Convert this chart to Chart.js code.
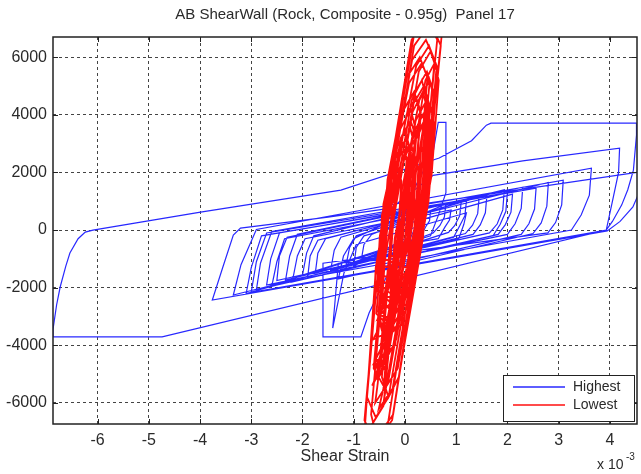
<!DOCTYPE html>
<html>
<head>
<meta charset="utf-8">
<script src="https://cdn.jsdelivr.net/npm/chart.js@4.4.1/dist/chart.umd.min.js"></script>
<style>
html,body{margin:0;padding:0;background:#fff;}
#wrap{position:relative;width:641px;height:474px;}
</style>
</head>
<body>
<div id="wrap"><canvas id="c" width="641" height="474"></canvas></div>
<script>
// ---- texts ----
const chartTitle = 'AB ShearWall (Rock, Composite - 0.95g)  Panel 17';
const xAxisTitle = 'Shear Strain';
const xMultiplierBase = 'x 10';
const xMultiplierExp = '-3';
const seriesNames = ['Highest', 'Lowest'];

// ---- tick labels ----
const xTicks = [-6, -5, -4, -3, -2, -1, 0, 1, 2, 3, 4];
const yTicks = [-6000, -4000, -2000, 0, 2000, 4000, 6000];

// ---- series "Highest" (strain in 1e-3, shear force) ----
const highestStrain = [
  0.0,
  -0.86, -0.8, -0.65, 0.8, 0.77, 0.68, 0.55,
  -1.15, -1.08, -0.95, 1.1, 1.07, 0.97, 0.85,
  -1.45, -1.38, -1.25, 1.45, 1.42, 1.32, 1.18,
  -1.75, -1.7, -1.55, 0.5, 0.48, 0.4, 0.3,
  -2.0, -1.92, -1.78, 1.94, 1.91, 1.8, 1.65,
  -2.5, -2.45, -2.3, 1.6, 1.57, 1.47, 1.33,
  -2.33, -2.25, -2.1, 2.3, 2.27, 2.15, 2.0,
  -2.7, -2.62, -2.45, 2.56, 2.53, 2.42, 2.27,
  -0.5, -0.45, 0.2, 0.55, 0.65, 0.8, 0.8, 0.8, 0.65, 0.5,
  -2.9, -2.82, -2.6, 3.09, 3.06, 2.94, 2.79,
  -1.6, -1.6, -0.86, -0.7, -0.39, -0.2, -1.3, -1.41, -1.19, -0.95, 1.2, 1.15, 1.05,
  -3.35, -3.2, -2.9, 3.64, 3.6, 3.44, 3.25,
  -1.9, -1.85, -1.7, 2.8, 2.77, 2.66, 2.5,
  -1.3, -1.2, -1.0, 0.45, 4.56, 4.72, 4.62, 4.45, 4.2, 3.95,
  -3.76, -3.56, -3.35, -3.21, -1.5, -0.27, 0.55, 2.3, 4.19, 4.17, 4.05, 3.93,
  -4.74, -6.87, -6.87, -6.8, -6.73, -6.62, -6.54, -6.38, -6.24, -6.09, -3.99, -1.25, 0.67, 1.3, 1.59, 1.68, 4.52, 4.52, 4.46, 4.35, 4.23, 4.05, 3.93,
  -3.1, -3.0, -2.8, 1.2, 1.17, 1.07, 0.95,
  -3.0, -2.9, -2.7, 2.0, 1.97, 1.86, 1.72,
  -2.6, -2.5, -2.35, 0.3, 0.28, 0.2, 0.1,
  -1.0, -0.95, -0.8, 2.1, 2.07, 1.96, 1.82,
  -2.2, -2.1, -1.95, 0.9, 0.87, 0.78, 0.65,
  0.0
];
const highestForce = [
  -300,
  -1109, -500, -150, 900, 450, 150, -100,
  -1213, -600, -200, 1000, 500, 150, -80,
  -1386, -700, -250, 1144, 570, 170, -120,
  -1500, -800, -300, 650, 320, 100, -250,
  -1560, -800, -200, 1400, 700, 210, -100,
  -1750, -900, -250, 1200, 600, 180, -150,
  -1733, -900, -150, 1490, 750, 220, -150,
  -1906, -1000, -100, 1456, 730, 220, -150,
  -1300, -300, 1500, 2700, 3740, 3740, 2500, 1300, 500, -200,
  -2080, -1150, -50, 1733, 870, 260, -100,
  -1150, -3709, -3709, -2877, -1733, -1000, -1150, -3400, -1490, -500, 600, 200, -300,
  -2253, -1200, 20, 2149, 1213, 520, 0,
  -1650, -900, -350, 1650, 830, 250, -120,
  -1700, -900, -300, 935, 2010, 2100, 1500, 800, 300, -30,
  -2426, -1317, -173, 70, 450, 760, 1900, 2400, 2842, 2000, 1000, 0,
  -3709, -3709, -3450, -2600, -1976, -1250, -797, -300, -69, 0, 624, 1386, 2500, 3100, 3639, 3709, 3709, 3300, 2080, 1400, 866, 300, 0,
  -2200, -1300, -200, 1000, 500, 150, -250,
  -2150, -1100, -100, 1300, 650, 200, -200,
  -1950, -1100, -300, 600, 300, 80, -300,
  -1250, -600, -200, 1250, 620, 190, -150,
  -1800, -900, -300, 700, 350, 100, -300,
  -500
];

// ---- series "Lowest" ----
const lowestStrain = [
  -0.15, -0.05, 0.1, 0.14, 0.09, -0.02, -0.2, -0.28,
  -0.18, -0.04, 0.19, 0.26, 0.19, 0.06, -0.2, -0.29,
  -0.33, -0.19, 0.1, 0.19, 0.12, -0.01, -0.26, -0.31,
  -0.09, 0.07, 0.35, 0.42, 0.35, 0.18, -0.17, -0.33,
  -0.45, -0.29, 0.05, 0.19, 0.11, -0.06, -0.35, -0.44,
  -0.21, -0.01, 0.34, 0.45, 0.35, 0.15, -0.27, -0.46,
  -0.56, -0.36, 0.05, 0.21, 0.11, -0.09, -0.58, -0.78,
  -0.64, -0.33, 0.25, 0.63, 0.44, 0.13, -0.3, -0.56,
  -0.22, 0.01, 0.41, 0.56, 0.43, 0.2, -0.28, -0.53,
  -0.58, -0.33, 0.18, 0.44, 0.29, 0.04, -0.34, -0.48,
  -0.08, 0.08, 0.37, 0.46, 0.38, 0.22, -0.14, -0.3,
  -0.37, -0.17, 0.25, 0.43, 0.33, 0.13, -0.39, -0.66,
  -0.55, -0.23, 0.34, 0.7, 0.5, 0.18, -0.26, -0.51,
  -0.4, -0.22, 0.14, 0.31, 0.21, 0.03, -0.4, -0.61,
  -0.39, -0.14, 0.36, 0.62, 0.47, 0.22, -0.15, -0.29,
  -0.08, 0.03, 0.21, 0.28, 0.23, 0.12, -0.13, -0.28,
  -0.49, -0.33, 0.0, 0.12, 0.04, -0.12, -0.54, -0.74,
  -0.57, -0.32, 0.2, 0.48, 0.33, 0.08, -0.31, -0.46,
  -0.13, 0.06, 0.37, 0.49, 0.39, 0.21, -0.19, -0.39,
  -0.54, -0.35, 0.03, 0.22, 0.11, -0.08, -0.55, -0.79,
  -0.58, -0.25, 0.33, 0.72, 0.51, 0.18, -0.26, -0.51,
  -0.23, -0.04, 0.34, 0.47, 0.37, 0.17, -0.26, -0.45,
  -0.57, -0.41, -0.07, 0.07, -0.02, -0.19, -0.43, -0.48,
  -0.09, 0.05, 0.31, 0.4, 0.34, 0.2, -0.2, -0.42,
  -0.51, -0.24, 0.29, 0.58, 0.41, 0.14, -0.3, -0.5,
  -0.41, -0.27, 0.01, 0.13, 0.07, -0.07, -0.26, -0.3,
  -0.08, 0.03, 0.16, 0.2, 0.15, 0.04, -0.26, -0.45,
  -0.32, -0.12, 0.35, 0.58, 0.48, 0.28, -0.09, -0.22,
  -0.51, -0.38, -0.14, -0.07, -0.14, -0.27, -0.49, -0.55,
  0.02, 0.15, 0.44, 0.57, 0.51, 0.37, 0.01, -0.19,
  -0.6, -0.44, -0.1, 0.03, -0.05, -0.21, -0.45, -0.49,
  0.01, 0.18, 0.52, 0.66, 0.58, 0.4, -0.11, -0.42,
  -0.66, -0.43, 0.06, 0.31, 0.18, -0.05, -0.41, -0.55,
  -0.19, 0.04, 0.46, 0.63, 0.5, 0.27, -0.22, -0.47,
  -0.64, -0.45, -0.08, 0.1, 0.0, -0.18, -0.42, -0.47,
  0.06, 0.17, 0.37, 0.44, 0.39, 0.28, 0.11, 0.06,
  -0.11, -0.03, 0.08, 0.1, 0.06, -0.02, -0.12, -0.1,
  -0.42, -0.31, -0.14, -0.06, -0.11, -0.22, -0.36, -0.4,
  0.15, 0.26, 0.46, 0.55, 0.5, 0.39, 0.11, -0.06,
  -0.62, -0.51, -0.31, -0.2, -0.26, -0.36, -0.57, -0.62
];
const lowestForce = [
  -1500, -1100, 150, 1400, 1800, 1400, -350, -2100,
  -2500, -2000, 50, 2100, 2600, 2100, -300, -2700,
  -3200, -2700, -100, 2500, 3000, 2500, 500, -1600,
  -2000, -1400, 1000, 3400, 4000, 3400, -100, -3600,
  -4200, -3600, -350, 2900, 3500, 2900, 250, -2400,
  -3000, -2300, 900, 4100, 4800, 4100, -100, -4300,
  -5000, -4300, -400, 3500, 4200, 3500, -1650, -6800,
  -7500, -6700, -50, 6600, 7400, 6600, 1950, -2900,
  -3500, -2800, 1000, 4800, 5500, 4800, -250, -5300,
  -6000, -5300, 0, 5300, 6000, 5300, 1750, -1900,
  -2500, -2000, 650, 3300, 3800, 3300, -350, -3900,
  -4500, -3800, 350, 4500, 5200, 4500, -1000, -6400,
  -7200, -6400, 0, 6400, 7200, 6400, 1700, -3100,
  -3800, -3200, 400, 4000, 4600, 4000, -450, -4800,
  -5500, -4800, 450, 5700, 6400, 5700, 2300, -1300,
  -1800, -1400, 300, 2000, 2400, 2000, -800, -3500,
  -4000, -3500, -400, 2700, 3200, 2700, -1650, -5800,
  -6500, -5800, -350, 5100, 5800, 5100, 1500, -2200,
  -2800, -2200, 800, 3800, 4400, 3800, -400, -4500,
  -5200, -4600, -700, 3200, 3800, 3200, -1800, -6600,
  -7400, -6600, 100, 6800, 7600, 6800, 2150, -2700,
  -3300, -2700, 850, 4400, 5000, 4400, 100, -4200,
  -4800, -4300, -1000, 2300, 2800, 2300, 300, -1700,
  -2200, -1700, 700, 3100, 3600, 3100, -1300, -5500,
  -6200, -5500, 200, 5900, 6600, 5900, 1500, -3000,
  -3600, -3100, -350, 2400, 2900, 2400, 850, -800,
  -1200, -800, 400, 1600, 2000, 1600, -1900, -5100,
  -5800, -5100, -300, 4500, 5200, 4500, 1100, -2400,
  -3000, -2500, -400, 1700, 2200, 1700, -200, -2100,
  -2600, -2100, 800, 3700, 4200, 3700, -200, -4000,
  -4600, -4000, -800, 2400, 3000, 2400, 500, -1500,
  -2000, -1400, 1900, 5200, 5800, 5200, -500, -6100,
  -6800, -6100, -1000, 4100, 4800, 4100, 700, -2800,
  -3400, -2700, 1400, 5500, 6200, 5500, 400, -4700,
  -5400, -4800, -1000, 2800, 3400, 2800, 900, -1200,
  -1600, -1200, 700, 2600, 3000, 2600, 1050, -500,
  -900, -600, 300, 1200, 1500, 1200, 300, -200,
  -2400, -2000, -300, 1400, 1800, 1400, 200, -1000,
  -1400, -1000, 1000, 3000, 3400, 3000, -200, -3300,
  -3800, -3400, -1300, 900, 1200, 900, -1300, -3000
];

const blueColor = 'rgb(40,40,255)';
const redColor = 'rgb(255,15,15)';
const FONT = '"Liberation Sans", Arial, Helvetica, sans-serif';
const TXT = '#2a2a2a';

function pairs(xs, ys) { return xs.map((x, i) => ({ x: x, y: ys[i] })); }

const decorPlugin = {
  id: 'decor',
  afterDraw(chart) {
    const ctx = chart.ctx;
    const a = chart.chartArea;
    const xs = chart.scales.x, ys = chart.scales.y;
    ctx.save();
    ctx.strokeStyle = '#222';
    ctx.lineWidth = 1;
    ctx.setLineDash([]);
    ctx.beginPath();
    xTicks.forEach(v => {
      const px = Math.round(xs.getPixelForValue(v)) + 0.5;
      ctx.moveTo(px, a.bottom); ctx.lineTo(px, a.bottom - 5);
      ctx.moveTo(px, a.top); ctx.lineTo(px, a.top + 5);
    });
    yTicks.forEach(v => {
      const py = Math.round(ys.getPixelForValue(v)) + 0.5;
      ctx.moveTo(a.left, py); ctx.lineTo(a.left + 5, py);
      ctx.moveTo(a.right, py); ctx.lineTo(a.right - 5, py);
    });
    ctx.stroke();
    ctx.lineWidth = 1.5;
    ctx.strokeStyle = '#222';
    ctx.strokeRect(a.left, a.top, a.right - a.left, a.bottom - a.top);

    ctx.fillStyle = TXT;
    ctx.textAlign = 'center';
    ctx.textBaseline = 'middle';
    ctx.font = '15px ' + FONT;
    ctx.fillText(chartTitle, (a.left + a.right) / 2, 15);
    ctx.font = '16px ' + FONT;
    ctx.fillText(xAxisTitle, (a.left + a.right) / 2, 457);
    ctx.textAlign = 'left';
    ctx.font = '14px ' + FONT;
    ctx.fillText(xMultiplierBase, 597, 465);
    ctx.font = '10px ' + FONT;
    ctx.fillText(xMultiplierExp, 626, 457);

    const lx = 503, ly = 375, lw = 131, lh = 46;
    ctx.fillStyle = '#fff';
    ctx.fillRect(lx, ly, lw, lh);
    ctx.lineWidth = 1;
    ctx.strokeStyle = '#222';
    ctx.strokeRect(lx + 0.5, ly + 0.5, lw, lh);
    const rows = [[seriesNames[0], blueColor, 387], [seriesNames[1], redColor, 405]];
    rows.forEach(r => {
      ctx.strokeStyle = r[1];
      ctx.lineWidth = 1.5;
      ctx.beginPath();
      ctx.moveTo(513, r[2]); ctx.lineTo(565, r[2]);
      ctx.stroke();
      ctx.fillStyle = TXT;
      ctx.font = '14px ' + FONT;
      ctx.textAlign = 'left';
      ctx.textBaseline = 'middle';
      ctx.fillText(r[0], 573, r[2]);
    });
    ctx.restore();
  }
};

new Chart(document.getElementById('c'), {
  type: 'scatter',
  data: {
    datasets: [
      {
        label: seriesNames[0],
        data: pairs(highestStrain, highestForce),
        showLine: true,
        borderColor: blueColor,
        backgroundColor: blueColor,
        borderWidth: 1.2,
        pointRadius: 0,
        tension: 0,
        order: 2
      },
      {
        label: seriesNames[1],
        data: pairs(lowestStrain, lowestForce),
        showLine: true,
        borderColor: redColor,
        backgroundColor: redColor,
        borderWidth: 1.8,
        pointRadius: 0,
        tension: 0,
        order: 1
      }
    ]
  },
  options: {
    responsive: false,
    animation: false,
    devicePixelRatio: 1,
    layout: { padding: { left: 0, right: 4, top: 37, bottom: 0 } },
    plugins: { legend: { display: false }, tooltip: { enabled: false }, title: { display: false } },
    scales: {
      x: {
        type: 'linear',
        min: -6.87,
        max: 4.53,
        afterBuildTicks: s => { s.ticks = xTicks.map(v => ({ value: v })); },
        afterFit: s => { s.height = 50; },
        ticks: {
          autoSkip: false, maxRotation: 0, padding: 7,
          color: TXT, font: { family: FONT, size: 16 },
          callback: v => String(v)
        },
        grid: { color: '#444', lineWidth: 1, drawTicks: false },
        border: { display: false, dash: [3, 3] }
      },
      y: {
        type: 'linear',
        min: -6730,
        max: 6700,
        afterBuildTicks: s => { s.ticks = yTicks.map(v => ({ value: v })); },
        afterFit: s => { s.width = 53; },
        ticks: {
          autoSkip: false, padding: 6,
          color: TXT, font: { family: FONT, size: 16 },
          callback: v => String(v)
        },
        grid: { color: '#444', lineWidth: 1, drawTicks: false },
        border: { display: false, dash: [3, 3] }
      }
    }
  },
  plugins: [decorPlugin]
});
</script>
</body>
</html>
